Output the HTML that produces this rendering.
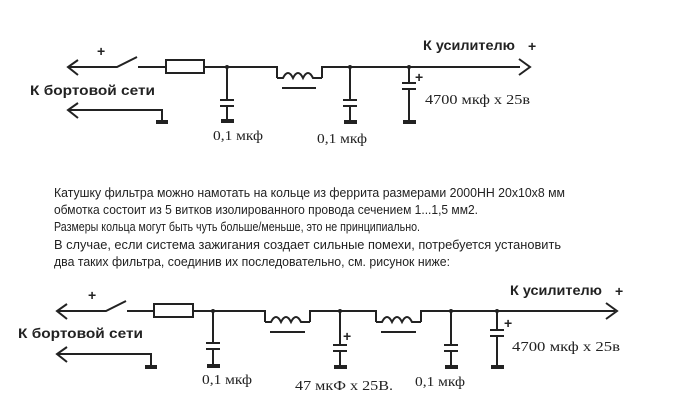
<!DOCTYPE html>
<html><head><meta charset="utf-8"><style>
html,body{margin:0;padding:0;background:#fff;width:697px;height:416px;overflow:hidden}
svg{display:block}
.b{font-family:"Liberation Sans",sans-serif;font-weight:bold;font-size:14px;fill:#222}
.s{font-family:"Liberation Serif",serif;font-size:14px;fill:#222}
.p{font-family:"Liberation Sans",sans-serif;font-size:13px;fill:#222}
</style></head><body>
<svg width="697" height="416" viewBox="0 0 697 416" xmlns="http://www.w3.org/2000/svg">
<g stroke="#222" stroke-width="2" fill="none">
<path d="M68 67 H117 L137 57"/>
<path d="M78 60 L68 67 L78 75"/>
<path d="M138 67 H166"/>
<rect x="166" y="60" width="38" height="13"/>
<path d="M204 67 H277 V78 M322 78 V67 H520"/>
<path d="M277 78 H283 q5 -10 10 0 q5 -10 10 0 q5 -10 10 0 H322"/>
<path d="M282 88 H316"/>
<path d="M519 59 L530 67 L519 75"/>
<path d="M227 67 V100 M220 100 H234 M220 106 H234 M227 106 V120"/>
<path d="M350 67 V100 M343 100 H357 M343 106 H357 M350 106 V121"/>
<path d="M409 67 V83 M402 83 H416 M402 89 H416 M409 89 V121"/>
<path d="M68 110 H162 V121"/>
<path d="M78 103 L68 110 L78 118"/>
<path d="M57 311 H106 L126 301"/>
<path d="M67 304 L57 311 L67 319"/>
<path d="M127 311 H154"/>
<rect x="154" y="304" width="39" height="13"/>
<path d="M193 311 H265 V322 M310 322 V311 H376 V322 M421 322 V311 H615"/>
<path d="M265 322 H271 q5 -10 10 0 q5 -10 10 0 q5 -10 10 0 H310"/>
<path d="M376 322 H382 q5 -10 10 0 q5 -10 10 0 q5 -10 10 0 H421"/>
<path d="M270 332 H305 M381 332 H416"/>
<path d="M606 303 L617 311 L606 319"/>
<path d="M213 311 V343 M206 343 H220 M206 349 H220 M213 349 V365"/>
<path d="M340 311 V345 M333 345 H347 M333 351 H347 M340 351 V366"/>
<path d="M451 311 V345 M444 345 H458 M444 351 H458 M451 351 V366"/>
<path d="M497 311 V330 M490 330 H504 M490 336 H504 M497 336 V366"/>
<path d="M57 354 H151 V366"/>
<path d="M67 347 L57 354 L67 362"/>
</g>
<g fill="#222">
<circle cx="227" cy="67" r="2"/><circle cx="350" cy="67" r="2"/><circle cx="409" cy="67" r="2"/>
<rect x="221" y="119" width="13" height="4"/><rect x="344" y="120" width="13" height="4"/><rect x="403" y="120" width="13" height="4"/><rect x="156" y="120" width="12" height="4"/>
<circle cx="213" cy="311" r="2"/><circle cx="340" cy="311" r="2"/><circle cx="451" cy="311" r="2"/><circle cx="497" cy="311" r="2"/>
<rect x="207" y="364" width="13" height="4"/><rect x="334" y="365" width="13" height="4"/><rect x="445" y="365" width="13" height="4"/><rect x="491" y="365" width="13" height="4"/><rect x="145" y="365" width="12" height="4"/>
</g>
<text class="b" x="97" y="56" font-size="16">+</text>
<text class="b" x="415" y="82" font-size="16">+</text>
<text class="b" x="423" y="50" textLength="92" lengthAdjust="spacingAndGlyphs">К усилителю</text>
<text class="b" x="528" y="51" font-size="16">+</text>
<text class="b" x="30" y="95" textLength="125" lengthAdjust="spacingAndGlyphs">К бортовой сети</text>
<text class="s" x="425" y="104" textLength="105" lengthAdjust="spacingAndGlyphs">4700 мкф  х  25в</text>
<text class="s" x="213" y="140" textLength="50" lengthAdjust="spacingAndGlyphs">0,1 мкф</text>
<text class="s" x="317" y="143" textLength="50" lengthAdjust="spacingAndGlyphs">0,1 мкф</text>

<text class="p" x="54" y="197" textLength="511" lengthAdjust="spacingAndGlyphs">Катушку фильтра можно намотать на кольце из феррита размерами 2000НН 20х10х8 мм</text>
<text class="p" x="54" y="214" textLength="424" lengthAdjust="spacingAndGlyphs">обмотка состоит  из 5 витков изолированного провода сечением 1...1,5 мм2.</text>
<text class="p" x="54" y="231" textLength="366" lengthAdjust="spacingAndGlyphs">Размеры кольца могут быть чуть больше/меньше, это не принципиально.</text>
<text class="p" x="54" y="249" textLength="507" lengthAdjust="spacingAndGlyphs">В случае, если система зажигания создает сильные помехи, потребуется установить</text>
<text class="p" x="54" y="266" textLength="396" lengthAdjust="spacingAndGlyphs">два таких фильтра, соединив их последовательно, см. рисунок ниже:</text>

<text class="b" x="88" y="300" font-size="16">+</text>
<text class="b" x="343" y="341" font-size="16">+</text>
<text class="b" x="504" y="328" font-size="16">+</text>
<text class="b" x="510" y="295" textLength="92" lengthAdjust="spacingAndGlyphs">К усилителю</text>
<text class="b" x="615" y="296" font-size="16">+</text>
<text class="b" x="18" y="338" textLength="125" lengthAdjust="spacingAndGlyphs">К бортовой сети</text>
<text class="s" x="512" y="351" textLength="108" lengthAdjust="spacingAndGlyphs">4700 мкф  х  25в</text>
<text class="s" x="202" y="384" textLength="50" lengthAdjust="spacingAndGlyphs">0,1 мкф</text>
<text class="s" x="295" y="390" textLength="98" lengthAdjust="spacingAndGlyphs">47 мкФ х 25В.</text>
<text class="s" x="415" y="386" textLength="50" lengthAdjust="spacingAndGlyphs">0,1 мкф</text>
</svg>
</body></html>
